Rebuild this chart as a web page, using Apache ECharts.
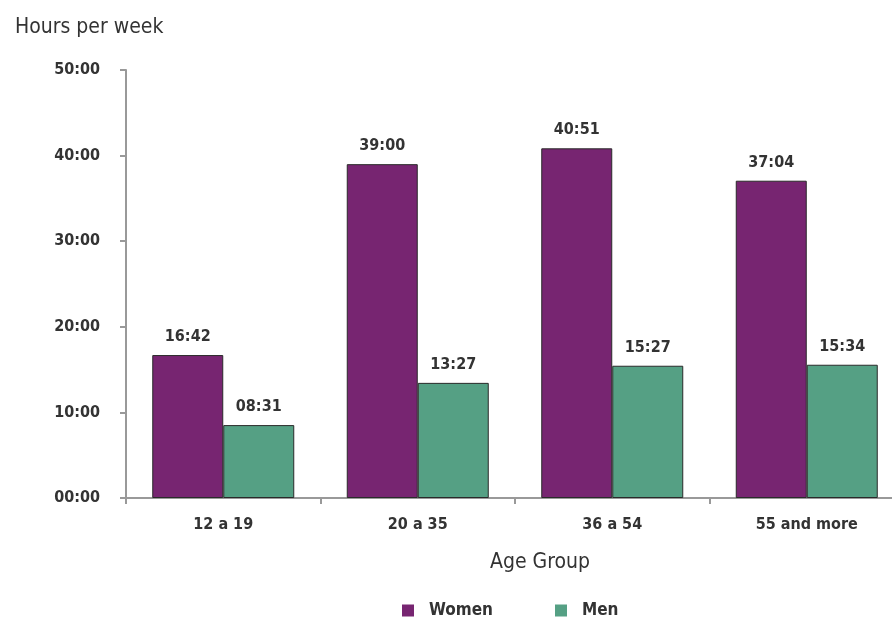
<!DOCTYPE html>
<html>
<head>
<meta charset="utf-8">
<script src="https://cdn.jsdelivr.net/npm/echarts@6/dist/echarts.min.js"></script>
<style>
html,body{margin:0;padding:0;background:#fff;overflow:hidden;}
#main{width:910px;height:623px;}
</style>
</head>
<body>
<div id="main"></div>
<script>
const categories = ['12 a 19', '20 a 35', '36 a 54', '55 and more'];
// minutes per week
const women = [16*60+42, 39*60+0, 40*60+51, 37*60+4];
const men = [8*60+31, 13*60+27, 15*60+27, 15*60+34];
const seriesNames = ['Women', 'Men'];
const yTicks = ['00:00', '10:00', '20:00', '30:00', '40:00', '50:00'];

const FONT = "'DejaVu Sans Condensed', 'DejaVu Sans', sans-serif";
function fmt(m){
  const h = Math.floor(m/60), mm = Math.round(m%60);
  return String(h).padStart(2,'0') + ':' + String(mm).padStart(2,'0');
}
const chart = echarts.init(document.getElementById('main'));
chart.setOption({
  animation:false,
  textStyle:{fontFamily:FONT},
  title:[
    {text:'Hours per week', left:10, top:12, textStyle:{fontFamily:FONT, fontSize:21, fontWeight:'normal', color:'#333'}},
    {text:'Age Group', left:535, top:547, textAlign:'center', textStyle:{fontFamily:FONT, fontSize:21, fontWeight:'normal', color:'#333'}}
  ],
  legend:{
    left:397, top:597, icon:'rect', itemWidth:12, itemHeight:12, itemGap:62,
    data:seriesNames,
    itemStyle:{borderWidth:0},
    textStyle:{fontFamily:FONT, fontSize:17, fontWeight:'bold', color:'#333', padding:[0,0,0,10]}
  },
  grid:{left:126, top:70, width:778, height:428, containLabel:false},
  xAxis:{
    type:'category', data:categories,
    axisLine:{lineStyle:{color:'#999', width:2}},
    axisTick:{show:true, length:6, lineStyle:{color:'#999', width:2}},
    axisLabel:{fontFamily:FONT, fontSize:16, fontWeight:'bold', color:'#333', margin:19}
  },
  yAxis:{
    type:'value', min:0, max:3000, interval:600,
    splitLine:{show:false},
    axisLine:{show:true, lineStyle:{color:'#999', width:2}},
    axisTick:{show:true, length:6, lineStyle:{color:'#999', width:2}},
    axisLabel:{fontFamily:FONT, fontSize:16, fontWeight:'bold', color:'#333', margin:26,
      formatter:function(v){ return yTicks[Math.round(v/600)]; }}
  },
  series:[
    {name:seriesNames[0], type:'bar', data:women, barWidth:71, barGap:'0%',
     itemStyle:{color:'#772571', borderColor:'#2a2a2a', borderWidth:1},
     label:{show:true, position:'top', distance:10, formatter:p=>fmt(p.value), fontFamily:FONT, fontSize:16, fontWeight:'bold', color:'#333'}},
    {name:seriesNames[1], type:'bar', data:men, barWidth:71, barGap:'0%',
     itemStyle:{color:'#55a084', borderColor:'#2a2a2a', borderWidth:1},
     label:{show:true, position:'top', distance:10, formatter:p=>fmt(p.value), fontFamily:FONT, fontSize:16, fontWeight:'bold', color:'#333'}}
  ]
});
</script>
</body>
</html>
